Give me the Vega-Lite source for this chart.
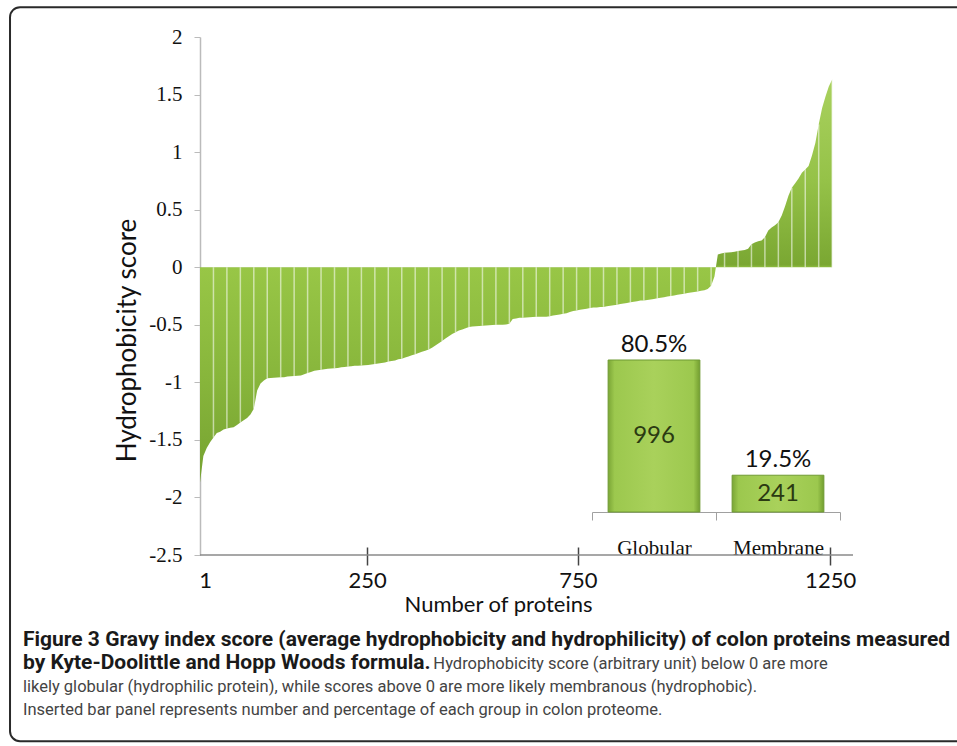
{
  "$schema": "https://vega.github.io/schema/vega-lite/v6.json",
  "padding": {"left": 9, "top": 6, "right": 0, "bottom": 0},
  "width": 653,
  "height": 518,
  "background": "white",
  "config": {"view": {"stroke": null}, "axis": {"grid": false}},
  "datasets": {
    "curve": [
      {"n":0,"v":-1.87},{"n":1,"v":-1.64},{"n":2,"v":-1.57},{"n":3,"v":-1.52},{"n":4,"v":-1.48},{"n":5,"v":-1.44},{"n":6,"v":-1.43},{"n":7,"v":-1.41},{"n":8,"v":-1.40},{"n":9,"v":-1.395},
      {"n":10,"v":-1.39},{"n":11,"v":-1.37},{"n":12,"v":-1.35},{"n":13,"v":-1.33},{"n":14,"v":-1.31},{"n":15,"v":-1.28},{"n":16,"v":-1.23},{"n":17,"v":-1.07},{"n":18,"v":-1.01},{"n":19,"v":-0.985},
      {"n":20,"v":-0.965},{"n":21,"v":-0.963},{"n":22,"v":-0.96},{"n":23,"v":-0.958},{"n":24,"v":-0.956},{"n":25,"v":-0.955},{"n":26,"v":-0.95},{"n":27,"v":-0.948},{"n":28,"v":-0.945},{"n":29,"v":-0.942},
      {"n":30,"v":-0.94},{"n":31,"v":-0.93},{"n":32,"v":-0.92},{"n":33,"v":-0.91},{"n":34,"v":-0.9},{"n":35,"v":-0.895},{"n":36,"v":-0.89},{"n":37,"v":-0.886},{"n":38,"v":-0.883},{"n":39,"v":-0.88},
      {"n":40,"v":-0.878},{"n":41,"v":-0.875},{"n":42,"v":-0.87},{"n":43,"v":-0.866},{"n":44,"v":-0.862},{"n":45,"v":-0.86},{"n":46,"v":-0.857},{"n":47,"v":-0.855},{"n":48,"v":-0.853},{"n":49,"v":-0.851},
      {"n":50,"v":-0.849},{"n":51,"v":-0.845},{"n":52,"v":-0.84},{"n":53,"v":-0.836},{"n":54,"v":-0.832},{"n":55,"v":-0.827},{"n":56,"v":-0.82},{"n":57,"v":-0.815},{"n":58,"v":-0.81},{"n":59,"v":-0.8},
      {"n":60,"v":-0.795},{"n":61,"v":-0.785},{"n":62,"v":-0.775},{"n":63,"v":-0.765},{"n":64,"v":-0.755},{"n":65,"v":-0.745},{"n":66,"v":-0.735},{"n":67,"v":-0.725},{"n":68,"v":-0.715},{"n":69,"v":-0.7},
      {"n":70,"v":-0.68},{"n":71,"v":-0.66},{"n":72,"v":-0.64},{"n":73,"v":-0.62},{"n":74,"v":-0.6},{"n":75,"v":-0.58},{"n":76,"v":-0.565},{"n":77,"v":-0.55},{"n":78,"v":-0.54},{"n":79,"v":-0.53},
      {"n":80,"v":-0.52},{"n":81,"v":-0.515},{"n":82,"v":-0.512},{"n":83,"v":-0.51},{"n":84,"v":-0.508},{"n":85,"v":-0.506},{"n":86,"v":-0.504},{"n":87,"v":-0.502},{"n":88,"v":-0.5},{"n":89,"v":-0.5},
      {"n":90,"v":-0.5},{"n":91,"v":-0.498},{"n":92,"v":-0.49},{"n":93,"v":-0.45},{"n":94,"v":-0.445},{"n":95,"v":-0.44},{"n":96,"v":-0.438},{"n":97,"v":-0.436},{"n":98,"v":-0.434},{"n":99,"v":-0.432},
      {"n":100,"v":-0.43},{"n":101,"v":-0.43},{"n":102,"v":-0.43},{"n":103,"v":-0.43},{"n":104,"v":-0.425},{"n":105,"v":-0.42},{"n":106,"v":-0.415},{"n":107,"v":-0.41},{"n":108,"v":-0.405},{"n":109,"v":-0.4},
      {"n":110,"v":-0.39},{"n":111,"v":-0.38},{"n":112,"v":-0.375},{"n":113,"v":-0.37},{"n":114,"v":-0.365},{"n":115,"v":-0.36},{"n":116,"v":-0.355},{"n":117,"v":-0.35},{"n":118,"v":-0.35},{"n":119,"v":-0.345},
      {"n":120,"v":-0.345},{"n":121,"v":-0.34},{"n":122,"v":-0.335},{"n":123,"v":-0.33},{"n":124,"v":-0.325},{"n":125,"v":-0.32},{"n":126,"v":-0.315},{"n":127,"v":-0.31},{"n":128,"v":-0.305},{"n":129,"v":-0.3},
      {"n":130,"v":-0.295},{"n":131,"v":-0.29},{"n":132,"v":-0.29},{"n":133,"v":-0.285},{"n":134,"v":-0.28},{"n":135,"v":-0.275},{"n":136,"v":-0.27},{"n":137,"v":-0.265},{"n":138,"v":-0.26},{"n":139,"v":-0.255},
      {"n":140,"v":-0.25},{"n":141,"v":-0.245},{"n":142,"v":-0.24},{"n":143,"v":-0.235},{"n":144,"v":-0.23},{"n":145,"v":-0.225},{"n":146,"v":-0.22},{"n":147,"v":-0.215},{"n":148,"v":-0.21},{"n":149,"v":-0.205},
      {"n":150,"v":-0.2},{"n":151,"v":-0.19},{"n":152,"v":-0.16},{"n":153,"v":-0.08},{"n":154,"v":0.11},{"n":155,"v":0.12},{"n":156,"v":0.125},{"n":157,"v":0.128},{"n":158,"v":0.13},{"n":159,"v":0.135},
      {"n":160,"v":0.14},{"n":161,"v":0.145},{"n":162,"v":0.15},{"n":163,"v":0.16},{"n":164,"v":0.2},{"n":165,"v":0.215},{"n":166,"v":0.225},{"n":167,"v":0.232},{"n":168,"v":0.26},{"n":169,"v":0.32},
      {"n":170,"v":0.345},{"n":171,"v":0.365},{"n":172,"v":0.39},{"n":173,"v":0.45},{"n":174,"v":0.53},{"n":175,"v":0.62},{"n":176,"v":0.69},{"n":177,"v":0.73},{"n":178,"v":0.77},{"n":179,"v":0.82},
      {"n":180,"v":0.85},{"n":181,"v":0.88},{"n":182,"v":0.97},{"n":183,"v":1.08},{"n":184,"v":1.24},{"n":185,"v":1.38},{"n":186,"v":1.48},{"n":187,"v":1.57},{"n":188,"v":1.63}
    ],
    "groups": [
      {"g": "Globular", "count": 996, "pct": "80.5%"},
      {"g": "Membrane", "count": 241, "pct": "19.5%"}
    ]
  },
  "resolve": {"scale": {"x": "independent", "y": "independent"}, "axis": {"x": "independent", "y": "independent"}},
  "layer": [
    {
      "data": {"name": "curve"},
      "layer": [
        {
          "mark": {
            "type": "area",
            "interpolate": "linear",
            "color": {
              "gradient": "linear", "x1": 0, "y1": 0, "x2": 0, "y2": 1,
              "stops": [
                {"offset": 0, "color": "#a9d15e"},
                {"offset": 0.25, "color": "#95c248"},
                {"offset": 0.46, "color": "#7aa732"},
                {"offset": 0.468, "color": "#98c646"},
                {"offset": 0.75, "color": "#87b53b"},
                {"offset": 1, "color": "#76a231"}
              ]
            }
          },
          "encoding": {
            "x": {
              "field": "n", "type": "quantitative",
              "scale": {"domain": [0, 194.2], "nice": false, "zero": false},
              "axis": {
                "values": [1.49, 49.7, 112.4, 187.4],
                "labelExpr": "datum.value < 10 ? '1' : datum.value < 60 ? '250' : datum.value < 150 ? '750' : '1250'",
                "domain": false,
                "offset": -8,
                "tickSize": 18,
                "tickColor": "#444",
                "tickWidth": 1.5,
                "tickOpacity": {"condition": {"test": "datum.value < 10", "value": 0}, "value": 1},
                "labelFont": "Lato",
                "labelFontSize": 22,
                "labelColor": "#111",
                "labelPadding": 5,
                "labelFlush": false,
                "labelOverlap": false,
                "title": "Number of proteins",
                "titleFont": "Lato",
                "titleFontSize": 22,
                "titleFontWeight": "normal",
                "titleColor": "#111",
                "titleX": 298,
                "titleY": 47,
                "titleBaseline": "top"
              }
            },
            "y": {
              "field": "v", "type": "quantitative",
              "scale": {"domain": [-2.5, 2], "nice": false},
              "axis": {
                "values": [-2.5, -2, -1.5, -1, -0.5, 0, 0.5, 1, 1.5, 2],
                "labelExpr": "datum.value + ''",
                "domainColor": "#bbbbbb",
                "domainWidth": 1.5,
                "tickColor": "#bbbbbb",
                "tickSize": 6,
                "labelFont": "Liberation Serif",
                "labelFontSize": 21,
                "labelColor": "#111",
                "labelPadding": 12,
                "title": "Hydrophobicity score",
                "titleFont": "Lato",
                "titleFontSize": 26,
                "titleFontWeight": "normal",
                "titleColor": "#111",
                "titleAngle": 270,
                "titleAlign": "center",
                "titleBaseline": "alphabetic",
                "titleX": -65,
                "titleY": 303
              }
            },
            "y2": {"datum": 0}
          }
        },
        {
          "transform": [{"filter": "datum.n % 4 == 0 && datum.n > 0"}],
          "mark": {"type": "rule", "color": "white", "strokeWidth": 1.5, "opacity": 0.55},
          "encoding": {
            "x": {"field": "n", "type": "quantitative"},
            "y": {"field": "v", "type": "quantitative"},
            "y2": {"datum": 0}
          }
        },
        {
          "data": {"values": [{}]},
          "mark": {"type": "rule", "color": "#8a8a8a", "strokeWidth": 1.5},
          "encoding": {"y": {"datum": -2.5, "type": "quantitative"}}
        },
        {
          "data": {"values": [{}]},
          "mark": {"type": "rect", "filled": false, "color": "#2a2a2a", "strokeWidth": 2, "cornerRadius": 10, "clip": false},
          "encoding": {
            "x": {"datum": -56.5, "type": "quantitative"},
            "x2": {"datum": 230},
            "y": {"datum": 2.259, "type": "quantitative"},
            "y2": {"datum": -4.118}
          }
        },
        {
          "data": {"values": [{"t": "Figure 3 Gravy index score (average hydrophobicity and hydrophilicity) of colon proteins measured"}]},
          "mark": {"type": "text", "align": "left", "baseline": "alphabetic", "font": "Roboto", "fontSize": 21, "fontWeight": "bold", "color": "#1a1a1a"},
          "encoding": {"x": {"datum": -52.65, "type": "quantitative"}, "y": {"datum": -3.293, "type": "quantitative"}, "text": {"field": "t"}}
        },
        {
          "data": {"values": [{"t": "by Kyte-Doolittle and Hopp Woods formula."}]},
          "mark": {"type": "text", "align": "left", "baseline": "alphabetic", "font": "Roboto", "fontSize": 21, "fontWeight": "bold", "color": "#1a1a1a"},
          "encoding": {"x": {"datum": -52.65, "type": "quantitative"}, "y": {"datum": -3.493, "type": "quantitative"}, "text": {"field": "t"}}
        },
        {
          "data": {"values": [{"t": "Hydrophobicity score (arbitrary unit) below 0 are more"}]},
          "mark": {"type": "text", "align": "left", "baseline": "alphabetic", "font": "Roboto", "fontSize": 16.5, "color": "#444444"},
          "encoding": {"x": {"datum": 69.4, "type": "quantitative"}, "y": {"datum": -3.493, "type": "quantitative"}, "text": {"field": "t"}}
        },
        {
          "data": {"values": [{"t": "likely globular (hydrophilic protein), while scores above 0 are more likely membranous (hydrophobic)."}]},
          "mark": {"type": "text", "align": "left", "baseline": "alphabetic", "font": "Roboto", "fontSize": 16.5, "color": "#444444"},
          "encoding": {"x": {"datum": -52.65, "type": "quantitative"}, "y": {"datum": -3.692, "type": "quantitative"}, "text": {"field": "t"}}
        },
        {
          "data": {"values": [{"t": "Inserted bar panel represents number and percentage of each group in colon proteome."}]},
          "mark": {"type": "text", "align": "left", "baseline": "alphabetic", "font": "Roboto", "fontSize": 16.5, "color": "#444444"},
          "encoding": {"x": {"datum": -52.65, "type": "quantitative"}, "y": {"datum": -3.892, "type": "quantitative"}, "text": {"field": "t"}}
        }
      ]
    },
    {
      "data": {"name": "groups"},
      "resolve": {"scale": {"y": "independent"}, "axis": {"y": "independent"}},
      "layer": [
        {
          "layer": [
            {
              "mark": {
                "type": "bar",
                "width": {"band": 0.74},
                "stroke": "#6f9a33",
                "strokeWidth": 1,
                "color": {
                  "gradient": "linear", "x1": 0, "y1": 0, "x2": 1, "y2": 0,
                  "stops": [
                    {"offset": 0, "color": "#7ba636"},
                    {"offset": 0.07, "color": "#9cc84e"},
                    {"offset": 0.5, "color": "#a9d15b"},
                    {"offset": 0.93, "color": "#9cc84e"},
                    {"offset": 1, "color": "#739e30"}
                  ]
                }
              },
              "encoding": {
                "x": {
                  "field": "g", "type": "nominal", "sort": null,
                  "scale": {"range": [392, 640], "paddingInner": 0, "paddingOuter": 0},
                  "axis": {
                    "orient": "bottom",
                    "offset": -43,
                    "tickBand": "extent",
                    "domainColor": "#a0a0a0",
                    "tickColor": "#a0a0a0",
                    "tickSize": 8,
                    "labelFont": "Liberation Serif",
                    "labelFontSize": 21,
                    "labelColor": "#111",
                    "labelPadding": 17,
                    "labelAngle": 0,
                    "title": null
                  }
                },
                "y": {
                  "field": "count", "type": "quantitative",
                  "scale": {"domain": [0, 996], "range": [475, 323], "nice": false, "zero": true},
                  "axis": null
                }
              }
            },
            {
              "mark": {"type": "text", "font": "Lato", "fontSize": 24, "baseline": "alphabetic", "dy": -8, "color": "#111"},
              "encoding": {
                "x": {"field": "g", "type": "nominal", "sort": null},
                "y": {"field": "count", "type": "quantitative"},
                "text": {"field": "pct"}
              }
            }
          ]
        },
        {
          "mark": {"type": "text", "font": "Lato", "fontSize": 24, "baseline": "middle", "color": "#2b3a12"},
          "encoding": {
            "x": {"field": "g", "type": "nominal", "sort": null},
            "y": {
              "field": "count", "type": "quantitative",
              "scale": {"domain": [0, 1992], "range": [475, 323], "nice": false, "zero": true},
              "axis": null
            },
            "text": {"field": "count"}
          }
        }
      ]
    }
  ]
}
